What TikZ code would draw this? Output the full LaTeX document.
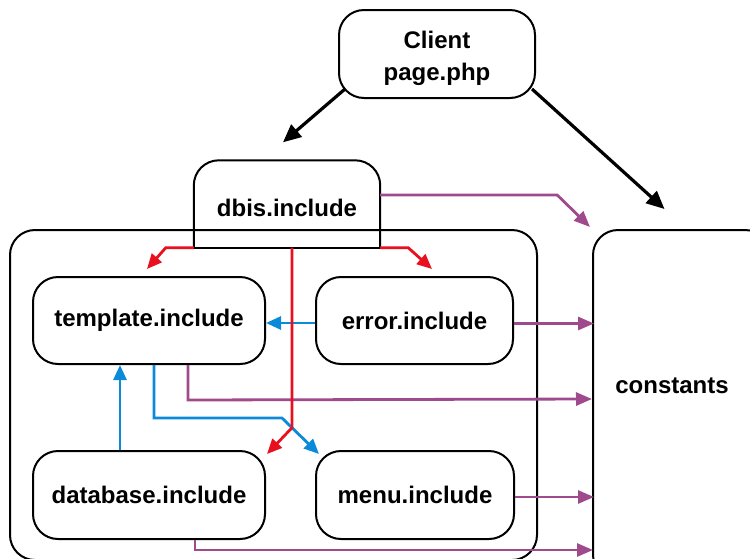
\documentclass[tikz,border=0pt]{standalone}
\usepackage{fontspec}
\setmainfont{Liberation Sans}
\usetikzlibrary{arrows.meta}
\definecolor{cred}{RGB}{232,16,30}
\definecolor{cblue}{RGB}{12,138,218}
\definecolor{cpurple}{RGB}{158,74,140}
\tikzset{
  box/.style={draw=black, line width=2pt, rounded corners=25pt, align=center,
    font=\fontsize{24}{32}\selectfont\bfseries, inner sep=0pt},
  plain/.style={inner sep=0pt, font=\fontsize{24}{32}\selectfont\bfseries},
  blk/.style={draw=black, line width=3.2pt, -{Triangle[length=18pt,width=16pt]}},
  redc/.style={draw=cred, line width=2.8pt, -{Triangle[length=15pt,width=13pt]}},
  bluec/.style={draw=cblue, line width=2.8pt, -{Triangle[length=15pt,width=13pt]}},
  purc/.style={draw=cpurple, line width=2.8pt, -{Triangle[length=16pt,width=13pt]}},
}
\begin{document}
\begin{tikzpicture}[x=1pt,y=-1pt]
\useasboundingbox (0,0) rectangle (750,558);
% containers
\node[box, minimum width=527pt, minimum height=330pt] (grp) at (273.5,395) {};
\node[box, minimum width=177pt, minimum height=350pt] (const) at (681.5,405) {};
\node[plain] (constlbl) at (672,386) {constants};
% nodes
\node[box, minimum width=196pt, minimum height=88pt] (client) at (437,54) {\raisebox{-4pt}[\height][\depth]{\begin{tabular}{@{}c@{}}Client\\page.php\end{tabular}}};
\node[plain, minimum width=186pt, minimum height=87pt] (dbis) at (287,204) {\raisebox{-4pt}[\height][\depth]{dbis.include}};
\draw[line width=2pt, rounded corners=25pt] (dbis.south west) -- (dbis.north west) -- (dbis.north east) -- (dbis.south east);
\draw[line width=2pt] (dbis.south west) -- (dbis.south east);
\node[box, minimum width=232pt, minimum height=87pt] (tpl) at (149,320.5) {template.include};
\node[box, minimum width=197pt, minimum height=87pt] (err) at (414.5,320.5) {error.include};
\node[box, minimum width=232pt, minimum height=88pt] (db) at (149,495) {database.include};
\node[box, minimum width=198pt, minimum height=88pt] (menu) at (415,495) {menu.include};
% black arrows
\draw[blk] ([xshift=7pt,yshift=10pt]client.south west) -- ([xshift=-4pt,yshift=18pt]dbis.north);
\draw[blk] ([xshift=-4pt,yshift=10pt]client.south east) -- ([xshift=-17pt,yshift=20pt]const.north);
% purple arrows
\draw[purc] ([yshift=9pt]dbis.east) -- ++(177,0) -- ([xshift=-2pt,yshift=2pt]const.north west);
\draw[purc] ([xshift=39pt]tpl.south) -- ++(0,35) -- ([yshift=6pt]const.west);
\draw[purc] ([yshift=-3pt]err.east) -- ++(80,0);
\draw[purc] ([yshift=-2pt]menu.east) -- ++(79,0);
\draw[purc] ([xshift=46pt]db.south) -- ++(0,10) -- ++(398,0);
% blue arrows
\draw[bluec] ([yshift=-2.5pt]err.west) -- ([yshift=-2.5pt]tpl.east);
\draw[bluec] ([xshift=5pt]tpl.south) -- ++(0,53) -- ++(128,0) -- ([xshift=4pt,yshift=-4pt]menu.north west);
\draw[bluec] ([xshift=-29pt]db.north) -- ([xshift=-29pt]tpl.south);
% red arrows
\draw[redc] (dbis.south west) -- ++(-28,0) -- ([xshift=-2pt,yshift=7pt]tpl.north);
\draw[redc] (dbis.south east) -- ++(28,0) -- ([xshift=17.5pt,yshift=7pt]err.north);
\draw[redc] ([xshift=5pt]dbis.south) -- ++(0,180) -- ([xshift=1pt,yshift=-4pt]db.north east);
\end{tikzpicture}
\end{document}
